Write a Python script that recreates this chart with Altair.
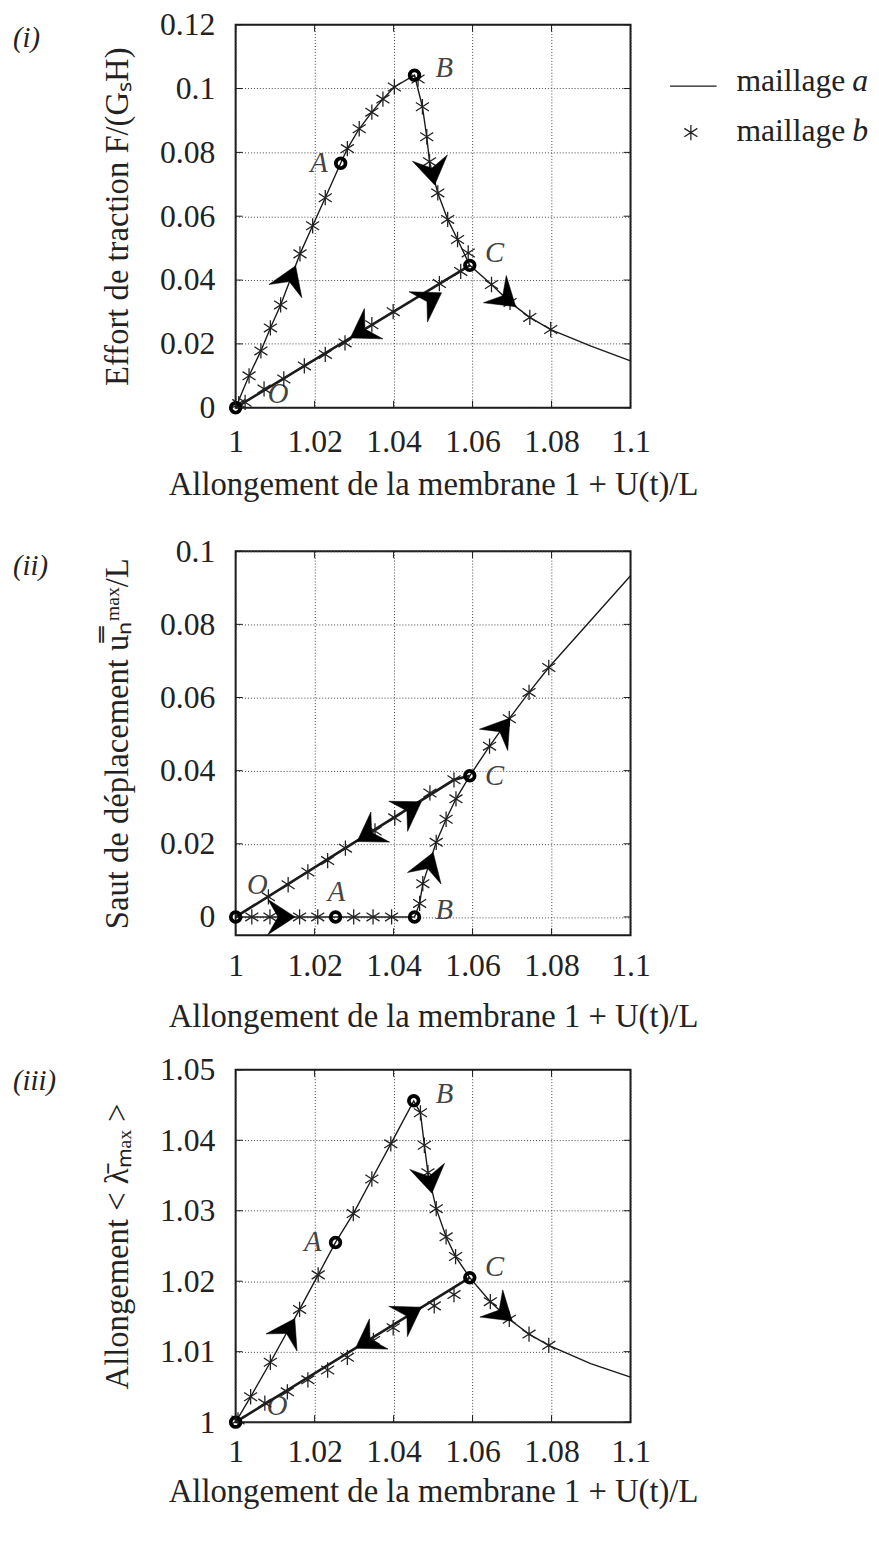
import altair as alt
import pandas as pd

FONT = "Liberation Serif"
INK = "#1a1a1a"
TEXT = "#222222"

# ---------------- shared ----------------
X_DOMAIN = [1.0, 1.1]
X_TICKS = [1.0, 1.02, 1.04, 1.06, 1.08, 1.1]
X_TITLE = "Allongement de la membrane 1 + U(t)/L"
KEY_NAMES = ["O", "A", "B", "C"]
LEGEND_NAMES = ["maillage", "maillage"]
LEGEND_TAGS = ["a", "b"]

# ---------------- panel (i) ----------------
P1_TAG = "(i)"
P1_Y_TITLE = "Effort de traction F/(GₛH)"
P1_Y_DOMAIN = [0.0, 0.12]
P1_Y_TICKS = [0, 0.02, 0.04, 0.06, 0.08, 0.1, 0.12]
P1_CURVE_X = [1.0, 1.0034, 1.0064, 1.0088, 1.0114, 1.0163, 1.0195, 1.0227, 1.0266, 1.0283,
              1.0313, 1.0345, 1.0373, 1.0402, 1.0453, 1.0473, 1.0484, 1.0491, 1.0512, 1.0537,
              1.0562, 1.0593, 1.0648, 1.0695, 1.0745, 1.0798, 1.09, 1.1]
P1_CURVE_Y = [0.0, 0.010, 0.0178, 0.025, 0.0322, 0.0482, 0.057, 0.0658, 0.0766, 0.0812,
              0.0874, 0.0926, 0.0967, 0.1005, 0.1042, 0.0943, 0.0849, 0.0771, 0.0673, 0.059,
              0.0527, 0.0446, 0.0386, 0.033, 0.0283, 0.0245, 0.0193, 0.0147]
P1_UNLOAD_X = [1.0593, 1.0]
P1_UNLOAD_Y = [0.0446, 0.0]
P1_STAR_X = [1.0008, 1.0034, 1.0064, 1.0088, 1.0114, 1.0163, 1.0195, 1.0227, 1.0283, 1.0313,
             1.0345, 1.0373, 1.0402, 1.0462, 1.0473, 1.0484, 1.0491, 1.0512, 1.0537, 1.0562,
             1.0589, 1.0648, 1.0695, 1.0745, 1.0798, 1.057, 1.0516, 1.0399, 1.0345, 1.0277,
             1.0227, 1.0174, 1.0122, 1.0072, 1.0024]
P1_STAR_Y = [0.0013, 0.010, 0.0178, 0.025, 0.0322, 0.0482, 0.057, 0.0658, 0.0812, 0.0874,
             0.0926, 0.0967, 0.1005, 0.103, 0.0943, 0.0849, 0.0771, 0.0673, 0.059, 0.0527,
             0.0485, 0.0386, 0.033, 0.0283, 0.0245, 0.0427, 0.0389, 0.0301, 0.026, 0.0203,
             0.0167, 0.0131, 0.009, 0.0059, 0.0017]
P1_KEY_X = [1.0, 1.0266, 1.0453, 1.0593]
P1_KEY_Y = [0.0, 0.0766, 0.1042, 0.0446]
P1_ARROW_X = [1.0139, 1.0498, 1.0320, 1.0492, 1.0683]
P1_ARROW_Y = [0.0405, 0.0740, 0.0241, 0.0338, 0.0344]
P1_ARROW_ANGLE = [292, 80, 148.7, 328.7, 40]

# ---------------- panel (ii) ----------------
P2_TAG = "(ii)"
P2_Y_TITLE = "Saut de déplacement u̿ₙᵐᵃˣ/L"
P2_Y_DOMAIN = [-0.005, 0.1]
P2_Y_TICKS = [0, 0.02, 0.04, 0.06, 0.08, 0.1]
P2_CURVE_X = [1.0, 1.0453, 1.0466, 1.0474, 1.0508, 1.0533, 1.0558, 1.0593, 1.0643, 1.0693,
              1.0743, 1.0793, 1.1]
P2_CURVE_Y = [0.0, 0.0, 0.0037, 0.0091, 0.0204, 0.0267, 0.0323, 0.0386, 0.0467, 0.0542,
              0.0614, 0.0682, 0.0933]
P2_UNLOAD_X = [1.0593, 1.0553, 1.0]
P2_UNLOAD_Y = [0.0386, 0.0375, 0.0]
P2_STAR_X = [1.0041, 1.0087, 1.0162, 1.0208, 1.0299, 1.0348, 1.0395, 1.0466, 1.0474, 1.0508,
             1.0533, 1.0558, 1.0643, 1.0693, 1.0743, 1.0793, 1.0553, 1.0492, 1.0403, 1.0353,
             1.0278, 1.0233, 1.0183, 1.0133, 1.0083]
P2_STAR_Y = [0.0, 0.0, 0.0, 0.0, 0.0, 0.0, 0.0, 0.0037, 0.0091, 0.0204,
             0.0267, 0.0323, 0.0467, 0.0542, 0.0614, 0.0682, 0.0375, 0.0339, 0.0271, 0.0235,
             0.0188, 0.0154, 0.0123, 0.0088, 0.0055]
P2_KEY_X = [1.0, 1.0253, 1.0453, 1.0593]
P2_KEY_Y = [0.0, 0.0, 0.0, 0.0386]
P2_ARROW_X = [1.0116, 1.0489, 1.0674, 1.0441, 1.0337]
P2_ARROW_Y = [0.0, 0.0141, 0.0514, 0.0295, 0.0226]
P2_ARROW_ANGLE = [0, 289, 307, 328, 148]

# ---------------- panel (iii) ----------------
P3_TAG = "(iii)"
P3_Y_TITLE = "Allongement < λ̄ₘₐₓ >"
P3_Y_DOMAIN = [1.0, 1.05]
P3_Y_TICKS = [1.0, 1.01, 1.02, 1.03, 1.04, 1.05]
P3_CURVE_X = [1.0, 1.0038, 1.0088, 1.0162, 1.0209, 1.0253, 1.0298, 1.0345, 1.0393, 1.0451,
              1.0468, 1.0478, 1.0487, 1.0508, 1.0533, 1.0557, 1.0593, 1.0645, 1.0693, 1.0743,
              1.0793, 1.0899, 1.1]
P3_CURVE_Y = [1.0, 1.0036, 1.0085, 1.016, 1.0209, 1.0255, 1.0296, 1.0345, 1.0395, 1.0456,
              1.0439, 1.0393, 1.0354, 1.0303, 1.0263, 1.0235, 1.0205, 1.0171, 1.0146, 1.0125,
              1.0109, 1.0083, 1.0064]
P3_UNLOAD_X = [1.0593, 1.0]
P3_UNLOAD_Y = [1.0205, 1.0]
P3_STAR_X = [1.0006, 1.0038, 1.0088, 1.0162, 1.0209, 1.0298, 1.0345, 1.0393, 1.0468, 1.0478,
             1.0487, 1.0508, 1.0533, 1.0557, 1.0645, 1.0693, 1.0743, 1.0793, 1.0553, 1.0503,
             1.0399, 1.0349, 1.0283, 1.0233, 1.0183, 1.0131, 1.0074]
P3_STAR_Y = [1.0003, 1.0036, 1.0085, 1.016, 1.0209, 1.0296, 1.0345, 1.0395, 1.0439, 1.0393,
             1.0354, 1.0303, 1.0263, 1.0235, 1.0171, 1.0146, 1.0125, 1.0109, 1.0181, 1.0165,
             1.0134, 1.0116, 1.0092, 1.0074, 1.006, 1.0043, 1.0027]
P3_KEY_X = [1.0, 1.0253, 1.0451, 1.0593]
P3_KEY_Y = [1.0, 1.0255, 1.0456, 1.0205]
P3_ARROW_X = [1.0133, 1.0491, 1.0674, 1.0441, 1.0333]
P3_ARROW_Y = [1.0130, 1.0344, 1.0156, 1.0153, 1.0115]
P3_ARROW_ANGLE = [299, 80, 40, 328.4, 148.4]

# ---------------- styling ----------------
W = 399
STAR = "M 0 -1 L 0 1 M -0.85 -0.55 L 0.85 0.55 M -0.85 0.55 L 0.85 -0.55"
ARROW = "M 1 0 L -1 -1.3 L -0.25 0 L -1 1.3 Z"
STAR_SIZE = 240
STAR_STROKE = 1.3

STYLE = {
    1: dict(height=387, xlp=19, xtp=12, tag_y=23, extra_bottom=108,
            offsets=[(43, -14), (-22, 0), (30, -7), (25, -12)]),
    2: dict(height=388, xlp=16, xtp=19, tag_y=24, extra_bottom=0,
            offsets=[(22, -32), (1, -25), (30, -7), (25, 0)]),
    3: dict(height=356, xlp=15, xtp=8, tag_y=20, extra_bottom=0,
            offsets=[(42, -16), (-23, 0), (31, -7), (25, -11)]),
}


def panel(n, tag, y_title, y_domain, y_ticks, cx, cy, ux, uy, sx, sy, kx, ky, ax, ay, aang,
          legend=False):
    st = STYLE[n]
    H = st["height"]
    xs = alt.Scale(domain=X_DOMAIN, nice=False, zero=False)
    ys = alt.Scale(domain=y_domain, nice=False, zero=False)
    xax = alt.Axis(values=X_TICKS, format=".2~f", title=X_TITLE,
                   labelPadding=st["xlp"], titlePadding=st["xtp"])
    yax = alt.Axis(values=y_ticks, format=".2~f", title=y_title,
                   labelPadding=21, titlePadding=25)

    def X():
        return alt.X("x:Q", scale=xs, axis=xax)

    def Y():
        return alt.Y("y:Q", scale=ys, axis=yax)

    layers = []
    key_df = pd.DataFrame({"x": kx, "y": ky, "name": KEY_NAMES})
    for name, (dx, dy) in zip(KEY_NAMES, st["offsets"]):
        layers.append(
            alt.Chart(key_df).transform_filter(alt.datum.name == name)
            .mark_text(font=FONT, fontSize=29, fontStyle="italic", color="#444444",
                       dx=dx, dy=dy, align="center", baseline="middle")
            .encode(x=X(), y=Y(), text="name:N")
        )

    curve = pd.DataFrame({"x": cx, "y": cy, "i": list(range(len(cx)))})
    layers.append(alt.Chart(curve).mark_line(color=INK, strokeWidth=1.4)
                  .encode(x=X(), y=Y(), order="i:Q"))
    unload = pd.DataFrame({"x": ux, "y": uy, "i": list(range(len(ux)))})
    layers.append(alt.Chart(unload).mark_line(color=INK, strokeWidth=2.6)
                  .encode(x=X(), y=Y(), order="i:Q"))

    stars = pd.DataFrame({"x": sx, "y": sy})
    layers.append(alt.Chart(stars).mark_point(shape=STAR, size=STAR_SIZE, filled=False,
                                               stroke="#222222", strokeWidth=STAR_STROKE,
                                               opacity=1)
                  .encode(x=X(), y=Y()))

    arrows = pd.DataFrame({"x": ax, "y": ay, "angle": aang})
    layers.append(alt.Chart(arrows).mark_point(shape=ARROW, size=760, filled=True,
                                                fill="#000000", stroke="#000000",
                                                strokeWidth=0.5, opacity=1)
                  .encode(x=X(), y=Y(), angle=alt.Angle("angle:Q", scale=None)))

    layers.append(alt.Chart(key_df).mark_point(shape="circle", size=95, filled=False,
                                                stroke="#000000", strokeWidth=3.8, opacity=1)
                  .encode(x=X(), y=Y()))

    ytk = pd.DataFrame({"y": y_ticks})
    xtk = pd.DataFrame({"x": X_TICKS})
    layers.append(alt.Chart(ytk).mark_rule(color=INK, strokeWidth=1)
                  .encode(y=Y(), x=alt.value(W - 7), x2=alt.value(W)))
    layers.append(alt.Chart(ytk).mark_rule(color=INK, strokeWidth=1)
                  .encode(y=Y(), x=alt.value(0), x2=alt.value(7)))
    layers.append(alt.Chart(xtk).mark_rule(color=INK, strokeWidth=1)
                  .encode(x=X(), y=alt.value(0), y2=alt.value(7)))
    layers.append(alt.Chart(xtk).mark_rule(color=INK, strokeWidth=1)
                  .encode(x=X(), y=alt.value(H - 7), y2=alt.value(H)))

    layers.append(alt.Chart(pd.DataFrame({"t": [tag]}))
                  .mark_text(font=FONT, fontSize=29, fontStyle="italic", align="left",
                             baseline="alphabetic", color=TEXT)
                  .encode(x=alt.value(-225), y=alt.value(st["tag_y"]), text="t:N"))

    if legend:
        leg = pd.DataFrame({"name": LEGEND_NAMES, "tag": LEGEND_TAGS})
        layers.append(alt.Chart(leg).transform_filter(alt.datum.tag == "a")
                      .mark_text(font=FONT, fontSize=32, align="left", baseline="alphabetic",
                                 color=TEXT)
                      .encode(x=alt.value(506), y=alt.value(67), text="name:N"))
        layers.append(alt.Chart(leg).transform_filter(alt.datum.tag == "a")
                      .mark_text(font=FONT, fontSize=32, fontStyle="italic", align="left",
                                 baseline="alphabetic", color=TEXT)
                      .encode(x=alt.value(623), y=alt.value(67), text="tag:N"))
        layers.append(alt.Chart(leg).transform_filter(alt.datum.tag == "b")
                      .mark_text(font=FONT, fontSize=32, align="left", baseline="alphabetic",
                                 color=TEXT)
                      .encode(x=alt.value(506), y=alt.value(117), text="name:N"))
        layers.append(alt.Chart(leg).transform_filter(alt.datum.tag == "b")
                      .mark_text(font=FONT, fontSize=32, fontStyle="italic", align="left",
                                 baseline="alphabetic", color=TEXT)
                      .encode(x=alt.value(623), y=alt.value(117), text="tag:N"))
        layers.append(alt.Chart(leg).transform_filter(alt.datum.tag == "a")
                      .mark_rule(color=INK, strokeWidth=1.4)
                      .encode(x=alt.value(439), x2=alt.value(486), y=alt.value(62)))
        layers.append(alt.Chart(leg).transform_filter(alt.datum.tag == "b")
                      .mark_point(shape=STAR, size=STAR_SIZE, filled=False, stroke="#222222",
                                  strokeWidth=STAR_STROKE, opacity=1)
                      .encode(x=alt.value(460), y=alt.value(109)))

    if st["extra_bottom"]:
        layers.append(alt.Chart(pd.DataFrame({"t": [0]}))
                      .mark_rule(strokeOpacity=0, color="white")
                      .encode(x=alt.value(0), y=alt.value(H + st["extra_bottom"] - 4),
                              y2=alt.value(H + st["extra_bottom"])))

    return alt.layer(*layers).properties(width=W, height=H)


p1 = panel(1, P1_TAG, P1_Y_TITLE, P1_Y_DOMAIN, P1_Y_TICKS, P1_CURVE_X, P1_CURVE_Y,
           P1_UNLOAD_X, P1_UNLOAD_Y, P1_STAR_X, P1_STAR_Y, P1_KEY_X, P1_KEY_Y,
           P1_ARROW_X, P1_ARROW_Y, P1_ARROW_ANGLE, legend=True)
p2 = panel(2, P2_TAG, P2_Y_TITLE, P2_Y_DOMAIN, P2_Y_TICKS, P2_CURVE_X, P2_CURVE_Y,
           P2_UNLOAD_X, P2_UNLOAD_Y, P2_STAR_X, P2_STAR_Y, P2_KEY_X, P2_KEY_Y,
           P2_ARROW_X, P2_ARROW_Y, P2_ARROW_ANGLE)
p3 = panel(3, P3_TAG, P3_Y_TITLE, P3_Y_DOMAIN, P3_Y_TICKS, P3_CURVE_X, P3_CURVE_Y,
           P3_UNLOAD_X, P3_UNLOAD_Y, P3_STAR_X, P3_STAR_Y, P3_KEY_X, P3_KEY_Y,
           P3_ARROW_X, P3_ARROW_Y, P3_ARROW_ANGLE)

chart = (
    alt.vconcat(p1, p2, p3, spacing=19)
    .properties(padding={"left": 4, "top": -8, "right": 2, "bottom": 4})
    .configure_view(stroke=INK, strokeWidth=2)
    .configure_axis(labelFont=FONT, titleFont=FONT, labelFontSize=32, titleFontSize=33,
                    titleFontWeight="normal", labelColor=TEXT, titleColor=TEXT,
                    ticks=False, tickSize=0, domain=False, grid=True, gridColor="#444444",
                    gridDash=[1, 2], gridWidth=1, labelFlush=False, labelOverlap=False)
)

chart.save("out.html", embed_options={"renderer": "svg", "actions": False})
